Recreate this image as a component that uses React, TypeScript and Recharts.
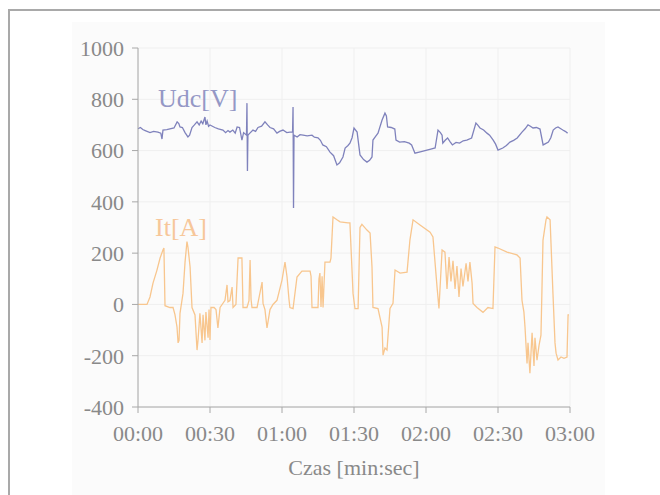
import { CartesianGrid, Line, LineChart, XAxis, YAxis } from "recharts";

// czas [s], napięcie sieci trakcyjnej [V]
const UDC_POINTS: [number, number][] = [
  [0, 685], [1, 690], [2, 682], [3, 678], [5, 670], [6.5, 675], [8.3, 672],
  [9.5, 668], [10, 645], [10.4, 680], [12, 682], [13.3, 685], [15, 688],
  [16.3, 712], [17, 705], [17.5, 692], [18.5, 690], [19.6, 670], [20.8, 653],
  [21.5, 660], [22.5, 690], [23.5, 700], [24.6, 712], [25.5, 700], [26.3, 715],
  [27, 705], [27.9, 731], [28.3, 700], [28.8, 715], [29.4, 695], [30, 700],
  [31, 695], [32, 690], [33.5, 685], [35.4, 680], [36.5, 670], [37.5, 678],
  [38.3, 672], [39.5, 680], [40.5, 668], [41.3, 692], [42.3, 690], [43.3, 641],
  [44, 670], [45.2, 660], [45.4, 785], [45.6, 520], [45.8, 660], [46.3, 665],
  [47.9, 680], [49, 675], [50, 690], [51.5, 695], [52.9, 712], [54, 700],
  [55, 690], [56.5, 685], [57.9, 668], [59, 675], [60.4, 680], [62, 670],
  [63.3, 672], [64.4, 672], [64.6, 770], [64.8, 376], [65, 660], [66.3, 653],
  [67.5, 662], [68.8, 660], [70.5, 657], [72.5, 660], [73.5, 652], [75, 650],
  [76, 640], [77, 622], [78.5, 615], [80, 594], [81.5, 580], [82.9, 544],
  [84, 552], [85.4, 575], [86.3, 610], [87.5, 620], [88.3, 629], [89.2, 650],
  [90, 688], [91.3, 672], [92.5, 583], [94, 565], [95.4, 555], [96.5, 562],
  [97.5, 575], [97.9, 641], [99, 655], [100, 668], [101.7, 719], [102.9, 746],
  [103.5, 735], [104, 692], [105.5, 690], [107, 684], [107.5, 641], [109, 633],
  [111, 635], [113, 629], [114, 622], [115.4, 590], [118, 596], [120.4, 602],
  [122, 606], [123.8, 610], [125, 680], [126, 670], [126.7, 660], [127, 629],
  [128, 640], [129, 649], [130, 635], [131, 622], [132.5, 632], [134, 629],
  [135.5, 638], [137, 641], [139, 649], [140.8, 707], [141.5, 700],
  [142.5, 688], [144, 680], [145.4, 668], [146.5, 660], [148, 641], [149, 625],
  [150, 602], [152, 610], [153.5, 620], [155, 633], [156.5, 640], [158, 649],
  [160, 672], [161.3, 685], [162.5, 700], [163.5, 695], [164.6, 688],
  [166, 690], [167.5, 684], [168.8, 622], [170, 628], [171, 633], [172, 650],
  [173, 680], [174, 688], [175, 692], [176, 686], [177, 680], [178, 675],
  [179, 668],
];

// czas [s], prąd trakcyjny [A]
const IT_POINTS: [number, number][] = [
  [0, 0], [3.75, 0], [5, 29], [6.25, 83], [7.9, 134], [9.2, 181], [10.4, 212],
  [10.8, 220], [11.25, -5], [13.3, -12], [14.6, -12], [15.4, -40], [16.25, -88],
  [16.7, -150], [17.1, -140], [17.5, -35], [18.75, 43], [19.6, 165], [20.4, 245],
  [20.8, 225], [21.7, 146], [22.5, -12], [23.75, -41], [24.6, -178], [25, -140],
  [25.8, -35], [26.7, -150], [27.1, -40], [27.9, -140], [28.3, -30], [29.2, -130],
  [29.6, -20], [30, -139], [30.4, -12], [31.7, -12], [32.5, -20], [33.3, -92],
  [34.2, -12], [36.25, 16], [37.1, 76], [37.5, 10], [38.3, 15], [39.2, 68],
  [39.6, -12], [40.8, 0], [41.7, 181], [43.3, 181], [43.75, -12], [45.4, -12],
  [46.25, 15], [46.7, 173], [47.1, 20], [47.5, -12], [49.6, -12], [51.7, 87],
  [52.1, 4], [52.9, -20], [53.75, -92], [55, -20], [56.25, 0], [57.9, 16],
  [60, 95], [61.25, 165], [62.1, 107], [62.9, 20], [63.3, -12], [64.6, -16],
  [66.25, 107], [68.3, 130], [71.7, 130], [72.1, 110], [72.5, -12], [75, -12],
  [75.4, 100], [75.8, 122], [76.25, -10], [76.7, 110], [77.1, -12], [77.9, 165],
  [80, 165], [80.4, 180], [81.25, 341], [82.9, 330], [84.2, 322], [87.5, 318],
  [88.3, 318], [89.6, 43], [90.4, -16], [91.7, -16], [92.5, 300], [93.3, 312],
  [95.4, 290], [96.7, 278], [97.5, 146], [97.9, -12], [100, -16], [101.7, -88],
  [102.1, -198], [102.9, -170], [103.75, -178], [105, -16], [106.25, 4],
  [107.1, 134], [109.2, 122], [112.1, 126], [113.3, 251], [114.6, 330],
  [117.5, 310], [121.7, 282], [122.9, 263], [124.6, 68], [125.4, -16],
  [126.7, 212], [127.9, 204], [128.75, 60], [129.6, 185], [130.4, 90],
  [131.25, 170], [132.1, 60], [132.9, 150], [133.75, 29], [134.6, 140],
  [135.4, 70], [136.7, 160], [137.5, 90], [138.3, 165], [139.2, 83], [139.6, 4],
  [141.25, -12], [143.75, -31], [145.8, -12], [147.9, -16], [148.75, 224],
  [150, 220], [153.75, 204], [157.9, 193], [159.2, 181], [160, 16], [160.8, -30],
  [161.25, -88], [162.1, -230], [162.5, -150], [163.3, -268], [164.2, -111],
  [165, -240], [165.4, -130], [166.25, -217], [167.1, -160], [167.9, -120],
  [168.3, 50], [168.75, 251], [170, 330], [170.4, 341], [171.7, 330], [172.9, 43],
  [173.75, -150], [174.2, -190], [175, -217], [176.25, -205], [177.5, -210],
  [178.75, -205], [179.2, -41], [179.6, -41],
];

const X_TICKS = [0, 30, 60, 90, 120, 150, 180];
const Y_TICKS = [-400, -200, 0, 200, 400, 600, 800, 1000];

const udcData = UDC_POINTS.map(([t, v]) => ({ t, udc: v }));
const itData = IT_POINTS.map(([t, v]) => ({ t, it: v }));

const SERIF = "'Liberation Serif', 'Times New Roman', serif";
const TICK_COLOR = "#898989";
const AXIS_COLOR = "#a8a8a8";
const UDC_COLOR = "#7f82bc";
const IT_COLOR = "#f8c68e";

const fmtTime = (s: number) => {
  const m = Math.floor(s / 60);
  const sec = s % 60;
  return `${String(m).padStart(2, "0")}:${String(sec).padStart(2, "0")}`;
};

export default function App() {
  return (
    <div
      style={{
        position: "absolute",
        left: 0,
        top: 0,
        width: 660,
        height: 495,
        background: "#fff",
        overflow: "hidden",
      }}
    >
      {/* ramka */}
      <div
        style={{
          position: "absolute",
          left: 8,
          top: 9,
          width: 660,
          height: 500,
          borderTop: "2px solid #a9a9a9",
          borderLeft: "2px solid #a9a9a9",
        }}
      />
      <div
        style={{
          position: "absolute",
          left: 72,
          top: 22,
          width: 533,
          height: 480,
          background: "#fbfbfb",
        }}
      />
      <div style={{ position: "absolute", left: 0, top: 0 }}>
        <LineChart
          width={660}
          height={495}
          margin={{ top: 48, right: 90, bottom: 8, left: 78 }}
        >
          <CartesianGrid stroke="#efefef" />
          <XAxis
            type="number"
            dataKey="t"
            domain={[0, 180]}
            ticks={X_TICKS}
            tickFormatter={fmtTime}
            height={80}
            tickSize={6}
            tickMargin={12}
            stroke={AXIS_COLOR}
            tick={{ fontFamily: SERIF, fontSize: 22, fill: TICK_COLOR }}
            label={{
              value: "Czas [min:sec]",
              position: "insideBottom",
              offset: 12,
              style: { fontFamily: SERIF, fontSize: 22, fill: TICK_COLOR },
            }}
          />
          <YAxis
            type="number"
            domain={[-400, 1000]}
            ticks={Y_TICKS}
            width={60}
            tickSize={6}
            tickMargin={8}
            stroke={AXIS_COLOR}
            tick={{ fontFamily: SERIF, fontSize: 22, fill: TICK_COLOR }}
          />
          <Line
            data={udcData}
            dataKey="udc"
            type="linear"
            stroke={UDC_COLOR}
            strokeWidth={1.3}
            dot={false}
            isAnimationActive={false}
          />
          <Line
            data={itData}
            dataKey="it"
            type="linear"
            stroke={IT_COLOR}
            strokeWidth={1.3}
            dot={false}
            isAnimationActive={false}
          />
        </LineChart>
      </div>
      <div
        style={{
          position: "absolute",
          left: 158,
          top: 84,
          fontFamily: SERIF,
          fontSize: 26,
          lineHeight: "30px",
          color: "#9598c6",
        }}
      >
        Udc[V]
      </div>
      <div
        style={{
          position: "absolute",
          left: 155,
          top: 213,
          fontFamily: SERIF,
          fontSize: 26,
          lineHeight: "30px",
          color: "#f7c79a",
        }}
      >
        It[A]
      </div>
    </div>
  );
}
